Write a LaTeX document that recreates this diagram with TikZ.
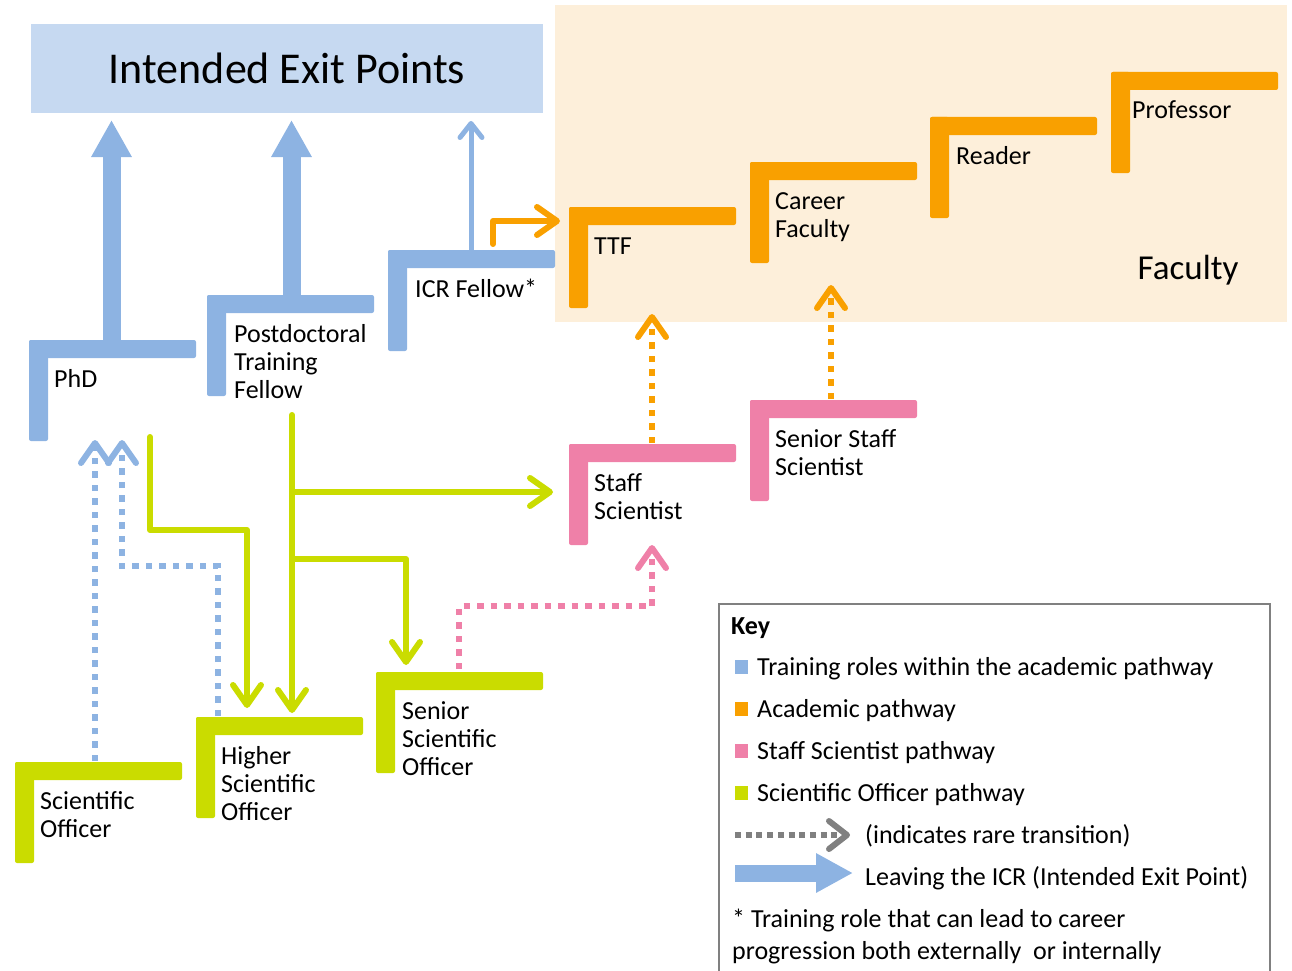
\documentclass[tikz,border=0pt]{standalone}
\usepackage{fontspec}
\setmainfont{Carlito}
\usetikzlibrary{arrows.meta}
\definecolor{cblue}{HTML}{8DB3E2}
\definecolor{corange}{HTML}{F9A000}
\definecolor{cpink}{HTML}{EF80A8}
\definecolor{cgreen}{HTML}{CADC00}
\definecolor{exitbg}{HTML}{C6D9F1}
\definecolor{facbg}{HTML}{FDEFDA}
\definecolor{keygray}{HTML}{808080}
\newcommand\rolebox[6][25]{%
  \fill[#5, rounded corners=2] (#3,#4) rectangle ++(167,18);
  \fill[#5, rounded corners=2] (#3,#4) rectangle ++(19,101);
  \node[rolelabel] (#2) at (#3+#1,#4+47) {\begin{tabular}[t]{@{}l@{}}#6\end{tabular}};
}
\tikzset{
  rolelabel/.style={anchor=base west, inner sep=0pt,
    font=\fontsize{26}{28}\selectfont},
  keytext/.style={anchor=base west, inner sep=0pt,
    font=\fontsize{26}{32}\selectfont},
  solidpath/.style={line width=6pt, line cap=round, line join=round,
    -{Straight Barb[length=20pt,width=28pt,round]}},
  rarepath/.style={line width=6.5pt, dash pattern=on 6.5pt off 7pt,
    -{Straight Barb[length=20pt,width=28pt,round,line width=6pt]}},
  exitarrow/.style={cblue, line width=18pt,
    -{Triangle[length=37pt,width=38pt]}},
}
\begin{document}
\begin{tikzpicture}[x=1pt,y=-1pt]
\useasboundingbox (0,0) rectangle (1292,971);
% backgrounds
\fill[facbg] (555,5) rectangle (1287,322);
\node[fill=exitbg, minimum width=512pt, minimum height=89pt, inner sep=0pt,
  font=\fontsize{44}{50}\selectfont] (exit) at (287,68.5) {Intended Exit Points};
\node[font=\fontsize{35}{40}\selectfont, inner sep=0pt] (faclabel) at (1188,270) {Faculty};

% roles
\rolebox{phd}{29}{340}{cblue}{PhD}
\rolebox[27]{pdtf}{207}{295}{cblue}{Postdoctoral\\Training\\Fellow}
\rolebox[27]{icr}{388}{250}{cblue}{ICR Fellow*}
\rolebox{ttf}{569}{207}{corange}{TTF}
\rolebox{cf}{750}{162}{corange}{Career\\Faculty}
\rolebox[26]{reader}{930}{117}{corange}{Reader}
\rolebox[21]{prof}{1111}{72}{corange}{Professor}
\rolebox{ss}{569}{444}{cpink}{Staff\\Scientist}
\rolebox{sss}{750}{400}{cpink}{Senior Staff\\Scientist}
\rolebox{so}{15}{762}{cgreen}{Scientific\\Officer}
\rolebox{hso}{196}{717}{cgreen}{Higher\\Scientific\\Officer}
\rolebox[26]{sso}{376}{672}{cgreen}{Senior\\Scientific\\Officer}

% coordinates
\coordinate (phdTop) at (111.5,340);
\coordinate (phdExit) at (111.5,120);
\coordinate (pdTop) at (291.5,295);
\coordinate (pdExit) at (291.5,120);
\coordinate (icrTop) at (471,250);
\coordinate (icrExit) at (471,121);
\coordinate (icrOr) at (493,244);
\coordinate (ttfIn) at (560,221);
\coordinate (phdGreen) at (150,437);
\coordinate (hsoIn1) at (247,708);
\coordinate (pdGreen) at (292,415);
\coordinate (hsoIn2) at (292,713);
\coordinate (ssIn) at (553,492);
\coordinate (ssoIn) at (406,665);
\coordinate (soTop) at (95,761);
\coordinate (phdIn1) at (95,440);
\coordinate (hsoTop) at (218,716);
\coordinate (phdIn2) at (122,440);
\coordinate (ssoTop) at (459,669);
\coordinate (ssBot) at (652,545);
\coordinate (ssTop) at (652,443);
\coordinate (ttfBot) at (652,314);
\coordinate (sssTop) at (831,399);
\coordinate (cfBot) at (831,285);

% exit arrows
\draw[exitarrow] (phdTop) -- (phdExit);
\draw[exitarrow] (pdTop) -- (pdExit);
\draw[cblue, line width=5pt, -{Straight Barb[length=14pt,width=22pt,round]}] (icrTop) -- (icrExit);
% orange
\draw[corange, solidpath] (icrOr) |- (ttfIn);
% green
\draw[cgreen, solidpath] (phdGreen) |- (247,530) -- (hsoIn1);
\draw[cgreen, solidpath] (pdGreen) -- (hsoIn2);
\draw[cgreen, solidpath] (292,492) -- (ssIn);
\draw[cgreen, solidpath] (292,559) -| (ssoIn);
% rare
\draw[cblue, rarepath] (soTop) -- (phdIn1);
\draw[cblue, rarepath] (hsoTop) |- (122,566) -- (phdIn2);
\draw[cpink, rarepath] (ssoTop) |- (652,606) -- (ssBot);
\draw[corange, rarepath] (ssTop) -- (ttfBot);
\draw[corange, rarepath] (sssTop) -- (cfBot);

% key
\draw[keygray, line width=1.5pt] (719,971) -- (719,604) -- (1270,604) -- (1270,971);
\node[keytext, font=\fontsize{26}{31}\selectfont\bfseries] (keyt) at (731,634) {Key};
\fill[cblue] (735,660) rectangle (748,674);
\node[keytext] (k1) at (757,675) {Training roles within the academic pathway};
\fill[corange] (735,702) rectangle (748,716);
\node[keytext] (k2) at (757,717) {Academic pathway};
\fill[cpink] (735,744) rectangle (748,758);
\node[keytext] (k3) at (757,759) {Staff Scientist pathway};
\fill[cgreen] (735,786) rectangle (748,800);
\node[keytext] (k4) at (757,801) {Scientific Officer pathway};
\coordinate (kd1) at (735,835);
\coordinate (kd2) at (850,835);
\draw[keygray, line width=6pt, dash pattern=on 6pt off 4.7pt,
  -{Straight Barb[length=18pt,width=28pt,round]}] (kd1) -- (kd2);
\node[keytext] (k5) at (865,843) {(indicates rare transition)};
\coordinate (kb1) at (735,873);
\coordinate (kb2) at (853,873);
\draw[cblue, line width=17pt, -{Triangle[length=37pt,width=37pt]}] (kb1) -- (kb2);
\node[keytext] (k6) at (865,885) {Leaving the ICR (Intended Exit Point)};
\node[keytext] (k7) at (732,927) {\begin{tabular}[t]{@{}l@{}}* Training role that can lead to career\\progression both externally\ \ or internally\end{tabular}};
\end{tikzpicture}
\end{document}
